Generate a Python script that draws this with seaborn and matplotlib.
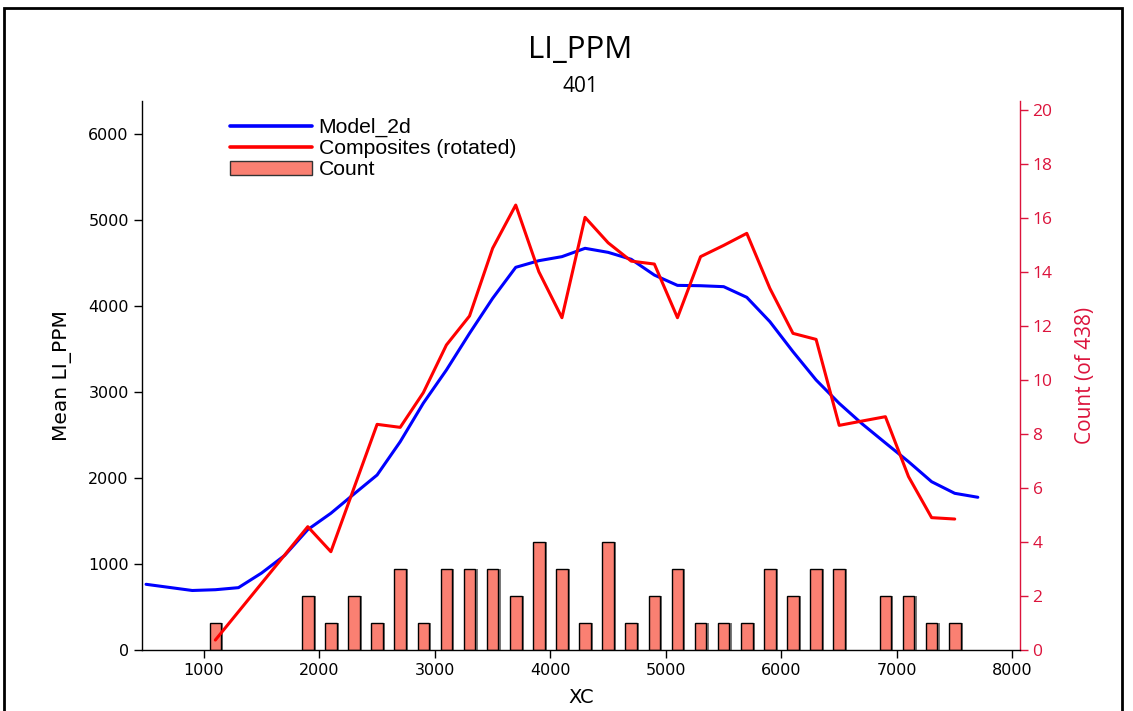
import matplotlib
matplotlib.use("Agg")
import matplotlib.pyplot as plt
import matplotlib.patheffects as pe
from matplotlib.patches import Rectangle, Patch
from matplotlib.lines import Line2D
import seaborn as sns
import pandas as pd

# ---------------- data ----------------
model_x = [500, 700, 900, 1100, 1300, 1500, 1700, 1900, 2100, 2300, 2500, 2700, 2900,
           3100, 3300, 3500, 3700, 3900, 4100, 4300, 4500, 4700, 4900, 5100, 5300,
           5500, 5700, 5900, 6100, 6300, 6500, 6700, 6900, 7100, 7300, 7500, 7700]
model_y = [764, 728, 692, 701, 725, 895, 1100, 1400, 1590, 1814, 2035, 2422, 2870,
           3256, 3682, 4089, 4450, 4527, 4574, 4671, 4624, 4543, 4360, 4240, 4236,
           4225, 4101, 3818, 3469, 3140, 2868, 2628, 2408, 2190, 1957, 1822, 1776]

comp_x = [1100, 1900, 2100, 2300, 2500, 2700, 2900, 3100, 3300, 3500, 3700, 3900,
          4100, 4300, 4500, 4700, 4900, 5100, 5300, 5500, 5700, 5900, 6100, 6300,
          6500, 6700, 6900, 7100, 7300, 7500]
comp_y = [116, 1434, 1143, 1884, 2624, 2589, 2992, 3547, 3884, 4671, 5174, 4399,
          3864, 5031, 4735, 4522, 4488, 3864, 4574, 4705, 4845, 4205, 3682, 3612,
          2612, 2663, 2713, 2016, 1539, 1523]

count_x = [1100, 1900, 2100, 2300, 2500, 2700, 2900, 3100, 3300, 3500, 3700, 3900,
           4100, 4300, 4500, 4700, 4900, 5100, 5300, 5500, 5700, 5900, 6100, 6300,
           6500, 6900, 7100, 7300, 7500]
count_n = [1, 2, 1, 2, 1, 3, 1, 3, 3, 3, 2, 4, 3, 1, 4, 1, 2, 3, 1, 1, 1, 3, 2, 3,
           3, 2, 2, 1, 1]

x_ticks = [1000, 2000, 3000, 4000, 5000, 6000, 7000, 8000]
left_ticks = [0, 1000, 2000, 3000, 4000, 5000, 6000]
right_ticks = [0, 2, 4, 6, 8, 10, 12, 14, 16, 18, 20]

title = "LI_PPM"
subtitle = "401"
xlabel = "XC"
ylabel = "Mean LI_PPM"
y2label = "Count (of 438)"
series_names = ["Model_2d", "Composites (rotated)", "Count"]

# ---------------- style ----------------
sns.set_style("ticks")
plt.rcParams["font.family"] = ["DejaVu Sans"]
plt.rcParams["text.color"] = "black"
plt.rcParams["axes.labelcolor"] = "black"
plt.rcParams["xtick.color"] = "black"
plt.rcParams["ytick.color"] = "black"

RED_AX = "#DC143C"
W, H = 1133, 711
fig = plt.figure(figsize=(W / 100, H / 100), dpi=100)
ax = fig.add_axes([142 / W, 1 - 650 / H, (1020 - 142) / W, (650 - 101) / H])
ax2 = ax.twinx()

# bars on the count axis, behind the lines
ax2.set_zorder(0)
ax.set_zorder(1)
ax.patch.set_visible(False)

bars = ax2.bar(count_x, count_n, width=100, color="#FA8072", edgecolor="black",
               linewidth=1.0, zorder=2)
for b in bars:
    b.set_path_effects([pe.SimplePatchShadow(offset=(1.6, 0.3), shadow_rgbFace="0.35",
                                             alpha=0.8), pe.Normal()])

df_model = pd.DataFrame({"x": model_x, "y": model_y})
df_comp = pd.DataFrame({"x": comp_x, "y": comp_y})
sns.lineplot(data=df_model, x="x", y="y", ax=ax, color="#0000FF", linewidth=2.2,
             estimator=None, sort=False)
sns.lineplot(data=df_comp, x="x", y="y", ax=ax, color="#FF0000", linewidth=2.2,
             estimator=None, sort=False)

ax.set_xlim(465, 8065)
ax.set_ylim(0, 6384)
ax2.set_ylim(0, 20.33)

ax.set_xticks(x_ticks)
ax.set_yticks(left_ticks)
ax2.set_yticks(right_ticks)
ax.tick_params(axis="both", labelsize=11.5, length=6, width=1, color="black",
               direction="out", labelcolor="black")
ax2.tick_params(axis="y", labelsize=12.5, length=6, width=1, colors=RED_AX,
                direction="out", pad=3)
for lbl in ax2.get_yticklabels():
    lbl.set_family("Open Sans")

ax.set_xlabel(xlabel, fontsize=14, labelpad=7)
ax.set_ylabel(ylabel, fontsize=14.5, labelpad=12)
ax2.set_ylabel(y2label, fontsize=15, color=RED_AX, family="Open Sans", labelpad=16)

for a in (ax, ax2):
    a.spines["top"].set_visible(False)
ax.spines["right"].set_visible(False)
ax2.spines["left"].set_visible(False)
ax2.spines["bottom"].set_visible(False)
ax2.spines["right"].set_color(RED_AX)
ax.spines["left"].set_linewidth(1.0)
ax.spines["bottom"].set_linewidth(1.0)
ax2.spines["right"].set_linewidth(1.0)
ax.spines["left"].set_color("black")
ax.spines["bottom"].set_color("black")

fig.text(580 / W, 1 - 50 / H, title, ha="center", va="center", fontsize=22.5,
         family="Open Sans", color="black")
fig.text(580 / W, 1 - 86 / H, subtitle, ha="center", va="center", fontsize=15,
         family="Open Sans", color="black")

handles = [
    Line2D([], [], color="#0000FF", linewidth=2.6),
    Line2D([], [], color="#FF0000", linewidth=2.6),
    Patch(facecolor="#FA8072", edgecolor="#333333", linewidth=1.0),
]
leg = fig.legend(handles, series_names, loc="upper left",
                 bbox_to_anchor=(230 / W, 1 - 118 / H), bbox_transform=fig.transFigure,
                 frameon=False, borderpad=0, borderaxespad=0, handlelength=3.9,
                 handletextpad=0.3, labelspacing=0.1,
                 prop={"family": "Liberation Sans", "size": 15.2})
for t in leg.get_texts():
    t.set_color("black")

# figure border
fig.patches.append(Rectangle((4 / W, -0.02), (1122 - 4) / W, 1 - 8 / H + 0.02,
                             transform=fig.transFigure, fill=False,
                             edgecolor="black", linewidth=2.0))

fig.savefig("out.png", dpi=100)
